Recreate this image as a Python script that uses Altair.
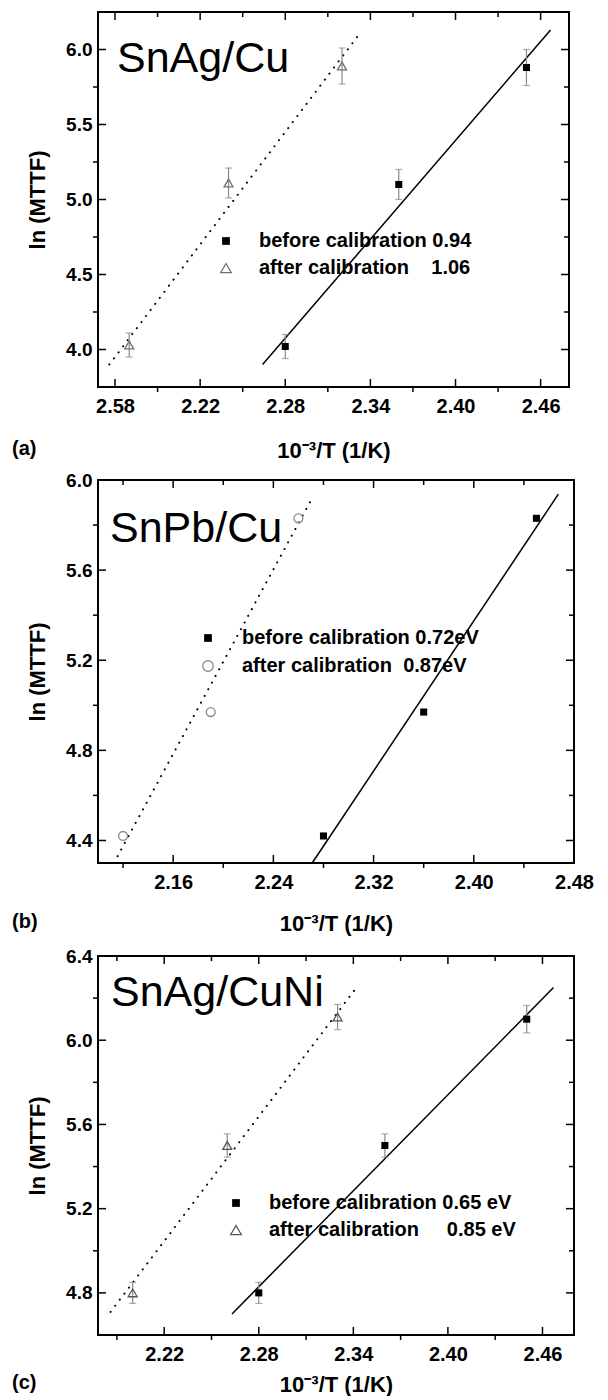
import altair as alt
import pandas as pd

FONT = "Liberation Sans"

# ---------------- Panel (a): SnAg/Cu ----------------
a_title = "SnAg/Cu"
a_tag = "(a)"
a_before_x = [2.28, 2.36, 2.45]
a_before_y = [4.02, 5.10, 5.88]
a_before_err = [0.08, 0.10, 0.12]
a_after_x = [2.17, 2.24, 2.32]
a_after_y = [4.03, 5.11, 5.89]
a_after_err = [0.08, 0.10, 0.12]
a_fit_before_x = [2.264, 2.467]
a_fit_before_y = [3.90, 6.13]
a_fit_after_x = [2.156, 2.332]
a_fit_after_y = [3.90, 6.10]
a_x_domain = [2.148, 2.48]
a_y_domain = [3.75, 6.25]
a_x_major = [2.16, 2.22, 2.28, 2.34, 2.40, 2.46]
a_x_labels = ["2.58", "2.22", "2.28", "2.34", "2.40", "2.46"]
a_x_minor = [2.19, 2.25, 2.31, 2.37, 2.43]
a_y_major = [4.0, 4.5, 5.0, 5.5, 6.0]
a_y_minor = [4.25, 4.75, 5.25, 5.75]
a_legend = ["before calibration 0.94", "after calibration\u00a0\u00a0\u00a0 1.06"]

# ---------------- Panel (b): SnPb/Cu ----------------
b_title = "SnPb/Cu"
b_tag = "(b)"
b_before_x = [2.28, 2.36, 2.45]
b_before_y = [4.42, 4.97, 5.83]
b_after_x = [2.12, 2.19, 2.26]
b_after_y = [4.42, 4.97, 5.83]
b_fit_before_x = [2.271, 2.4675]
b_fit_before_y = [4.30, 5.937]
b_fit_after_x = [2.1156, 2.2705]
b_fit_after_y = [4.33, 5.915]
b_x_domain = [2.10, 2.48]
b_y_domain = [4.30, 6.00]
b_x_major = [2.16, 2.24, 2.32, 2.40, 2.48]
b_x_labels = ["2.16", "2.24", "2.32", "2.40", "2.48"]
b_x_minor = [2.12, 2.20, 2.28, 2.36, 2.44]
b_y_major = [4.4, 4.8, 5.2, 5.6, 6.0]
b_y_minor = [4.6, 5.0, 5.4, 5.8]
b_legend = ["before calibration 0.72eV", "after calibration\u00a0 0.87eV"]

# ---------------- Panel (c): SnAg/CuNi ----------------
c_title = "SnAg/CuNi"
c_tag = "(c)"
c_before_x = [2.28, 2.36, 2.45]
c_before_y = [4.80, 5.50, 6.10]
c_before_err = [0.05, 0.055, 0.065]
c_after_x = [2.20, 2.26, 2.33]
c_after_y = [4.80, 5.50, 6.11]
c_after_err = [0.05, 0.055, 0.06]
c_fit_before_x = [2.263, 2.467]
c_fit_before_y = [4.70, 6.25]
c_fit_after_x = [2.186, 2.342]
c_fit_after_y = [4.71, 6.25]
c_x_domain = [2.178, 2.48]
c_y_domain = [4.60, 6.40]
c_x_major = [2.22, 2.28, 2.34, 2.40, 2.46]
c_x_labels = ["2.22", "2.28", "2.34", "2.40", "2.46"]
c_x_minor = [2.19, 2.25, 2.31, 2.37, 2.43]
c_y_major = [4.8, 5.2, 5.6, 6.0, 6.4]
c_y_minor = [5.0, 5.4, 5.8, 6.2]
c_legend = ["before calibration 0.65 eV", "after calibration\u00a0\u00a0\u00a0\u00a0 0.85 eV"]

X_TITLE = "10\u207b\u00b3/T (1/K)"
Y_TITLE = "ln (MTTF)"


def label_expr(vals, labels):
    expr = ""
    for v, lab in zip(vals, labels):
        expr += f"abs(datum.value - {v}) < 0.001 ? '{lab}' : "
    return expr + "''"


def panel(title, tag, bx, by, berr, ax_, ay, aerr, fbx, fby, fax, fay,
          xdom, ydom, xmaj, xlab, xmin, ymaj, ymin, legend,
          after_shape, after_color, w, h, title_xy, leg_xy, text_dx,
          title_pad_x, tag_dy):
    xs = alt.Scale(domain=xdom, nice=False, zero=False)
    ys = alt.Scale(domain=ydom, nice=False, zero=False)

    x_axis = alt.Axis(values=xmaj, labelExpr=label_expr(xmaj, xlab), ticks=False,
                      domain=False, grid=False, labelFont=FONT, labelFontSize=20,
                      labelFontWeight="bold", labelColor="black", labelPadding=9,
                      labelFlush=False, labelOverlap=False,
                      title=X_TITLE, titleFont=FONT, titleFontSize=22,
                      titleFontWeight="bold", titleColor="black",
                      titlePadding=title_pad_x)
    y_axis = alt.Axis(values=ymaj, format=".1f", ticks=False, domain=False, grid=False,
                      labelFont=FONT, labelFontSize=19, labelFontWeight="bold",
                      labelColor="black", labelPadding=6, labelFlush=False,
                      labelOverlap=False,
                      title=Y_TITLE, titleFont=FONT, titleFontSize=22,
                      titleFontWeight="bold", titleColor="black", titlePadding=16)

    def X(f):
        return alt.X(f"{f}:Q", scale=xs, axis=x_axis)

    def Y(f):
        return alt.Y(f"{f}:Q", scale=ys, axis=y_axis)

    fb = pd.DataFrame({"x": fbx, "y": fby})
    fa = pd.DataFrame({"x": fax, "y": fay})
    line_b = alt.Chart(fb).mark_line(color="black", strokeWidth=1.5).encode(
        x=X("x"), y=Y("y"))
    line_a = alt.Chart(fa).mark_line(color="black", strokeWidth=2, strokeDash=[0.1, 7.5],
                                     strokeCap="round").encode(x=X("x"), y=Y("y"))
    layers = [line_b, line_a]

    # inward / outward frame ticks
    dxM = pd.DataFrame({"x": xmaj})
    dxm = pd.DataFrame({"x": xmin})
    dyM = pd.DataFrame({"y": ymaj})
    dym = pd.DataFrame({"y": ymin})
    tk = dict(color="black", strokeWidth=1.5)
    layers += [
        alt.Chart(dxM).mark_rule(**tk).encode(x=X("x"), y=alt.value(h), y2=alt.value(h - 8)),
        alt.Chart(dxm).mark_rule(**tk).encode(x=X("x"), y=alt.value(h), y2=alt.value(h + 5)),
        alt.Chart(dxM).mark_rule(**tk).encode(x=X("x"), y=alt.value(0), y2=alt.value(8)),
        alt.Chart(dxm).mark_rule(**tk).encode(x=X("x"), y=alt.value(0), y2=alt.value(5)),
        alt.Chart(dyM).mark_rule(**tk).encode(y=Y("y"), x=alt.value(0), x2=alt.value(8)),
        alt.Chart(dym).mark_rule(**tk).encode(y=Y("y"), x=alt.value(0), x2=alt.value(-5)),
        alt.Chart(dyM).mark_rule(**tk).encode(y=Y("y"), x=alt.value(w), x2=alt.value(w - 8)),
        alt.Chart(dym).mark_rule(**tk).encode(y=Y("y"), x=alt.value(w), x2=alt.value(w - 5)),
    ]

    # error bars
    for xs_, ys_, es_ in ((bx, by, berr), (ax_, ay, aerr)):
        if es_ is None:
            continue
        d = pd.DataFrame({"x": xs_, "y": ys_, "e": es_})
        d["lo"] = d["y"] - d["e"]
        d["hi"] = d["y"] + d["e"]
        layers.append(alt.Chart(d).mark_rule(color="#8a8a8a", strokeWidth=1.2).encode(
            x=X("x"), y=Y("lo"), y2=alt.Y2("hi")))
        layers.append(alt.Chart(d).mark_tick(color="#8a8a8a", orient="horizontal", size=7,
                                             thickness=1.2).encode(x=X("x"), y=Y("lo")))
        layers.append(alt.Chart(d).mark_tick(color="#8a8a8a", orient="horizontal", size=7,
                                             thickness=1.2).encode(x=X("x"), y=Y("hi")))

    db = pd.DataFrame({"x": bx, "y": by})
    da = pd.DataFrame({"x": ax_, "y": ay})
    layers.append(alt.Chart(db).mark_point(shape="square", filled=True, color="black",
                                           size=50, opacity=1).encode(x=X("x"), y=Y("y")))
    layers.append(alt.Chart(da).mark_point(shape=after_shape, filled=False, color=after_color,
                                           size=80, strokeWidth=1.3, opacity=1).encode(
        x=X("x"), y=Y("y")))

    # panel title
    dt = pd.DataFrame({"t": [title]})
    layers.append(alt.Chart(dt).mark_text(font=FONT, fontSize=43, align="left",
                                          baseline="middle", color="black").encode(
        x=alt.value(title_xy[0]), y=alt.value(title_xy[1]), text="t:N"))

    # legend
    lx, ly0, ly1 = leg_xy
    dl = pd.DataFrame({"t": [legend[0]]})
    dl2 = pd.DataFrame({"t": [legend[1]]})
    layers.append(alt.Chart(dl).mark_point(shape="square", filled=True, color="black",
                                           size=60, opacity=1).encode(
        x=alt.value(lx), y=alt.value(ly0)))
    layers.append(alt.Chart(dl2).mark_point(shape=after_shape, filled=False, color=after_color,
                                            size=110, strokeWidth=1.3, opacity=1).encode(
        x=alt.value(lx), y=alt.value(ly1)))
    layers.append(alt.Chart(dl).mark_text(font=FONT, fontSize=20, fontWeight="bold",
                                          align="left", baseline="middle",
                                          color="black").encode(
        x=alt.value(lx + text_dx), y=alt.value(ly0), text="t:N"))
    layers.append(alt.Chart(dl2).mark_text(font=FONT, fontSize=20, fontWeight="bold",
                                           align="left", baseline="middle",
                                           color="black").encode(
        x=alt.value(lx + text_dx), y=alt.value(ly1), text="t:N"))

    # (a)/(b)/(c) tag
    dtag = pd.DataFrame({"t": [tag]})
    layers.append(alt.Chart(dtag).mark_text(font=FONT, fontSize=20, fontWeight="bold",
                                            align="left", baseline="middle",
                                            color="black").encode(
        x=alt.value(-86), y=alt.value(h + tag_dy), text="t:N"))

    return alt.layer(*layers).properties(width=w, height=h)


pa = panel(a_title, a_tag, a_before_x, a_before_y, a_before_err,
           a_after_x, a_after_y, a_after_err,
           a_fit_before_x, a_fit_before_y, a_fit_after_x, a_fit_after_y,
           a_x_domain, a_y_domain, a_x_major, a_x_labels, a_x_minor,
           a_y_major, a_y_minor, a_legend, "triangle-up", "#6f6f6f",
           471, 375, (19, 47), (128, 229, 256), 33, 24, 62)
pb = panel(b_title, b_tag, b_before_x, b_before_y, None,
           b_after_x, b_after_y, None,
           b_fit_before_x, b_fit_before_y, b_fit_after_x, b_fit_after_y,
           b_x_domain, b_y_domain, b_x_major, b_x_labels, b_x_minor,
           b_y_major, b_y_minor, b_legend, "circle", "#8c8c8c",
           476, 383, (12, 49), (110, 158, 186), 34, 21, 59)
pc = panel(c_title, c_tag, c_before_x, c_before_y, c_before_err,
           c_after_x, c_after_y, c_after_err,
           c_fit_before_x, c_fit_before_y, c_fit_after_x, c_fit_after_y,
           c_x_domain, c_y_domain, c_x_major, c_x_labels, c_x_minor,
           c_y_major, c_y_minor, c_legend, "triangle-up", "#555555",
           476, 379, (13, 37), (138, 247, 274), 33, 10, 48)

chart = alt.vconcat(pa, pb, pc, spacing=93, bounds="flush").properties(
    padding={"left": 3, "top": 2, "right": 2, "bottom": 0}
).configure(font=FONT, background="white").configure_view(
    stroke="black", strokeWidth=2)

chart.save("out.html", embed_options={"renderer": "svg", "actions": False})
